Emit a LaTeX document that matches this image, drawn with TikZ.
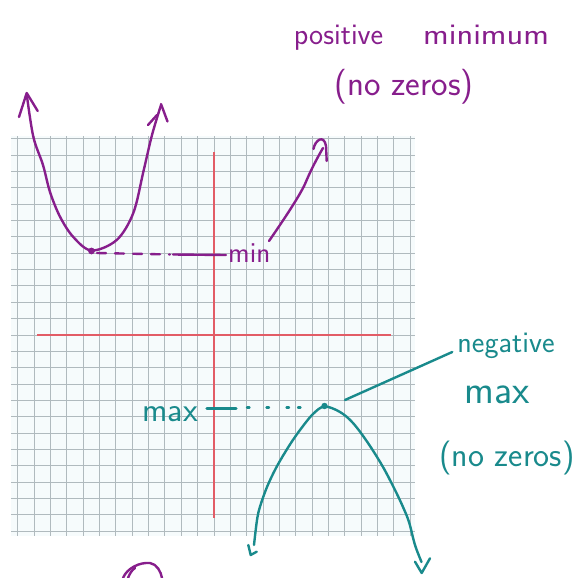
\documentclass[tikz,border=0pt]{standalone}
\definecolor{pur}{RGB}{135,30,140}
\definecolor{tea}{RGB}{25,138,140}
\definecolor{axr}{RGB}{226,92,102}
\definecolor{gridc}{RGB}{176,186,190}
\definecolor{gridbg}{RGB}{246,251,252}
\begin{document}
\begin{tikzpicture}[x=1pt,y=-1pt,
  pen/.style={line width=2.4pt,line cap=round,line join=round},
  hw/.style={inner sep=0pt},
  gridline/.style={gridc,line width=1pt},
  axis/.style={axr,line width=2.2pt}]
\useasboundingbox (0,0) rectangle (581,578);
% graph paper
\fill[gridbg] (11,136) rectangle (415,536);
\foreach \gi in {0,...,24} {
  \pgfmathsetmacro{\gx}{17.8+16.35*\gi}
  \pgfmathsetmacro{\gy}{138.8+16.35*\gi}
  \draw[gridline] (\gx,136) -- (\gx,536);
  \draw[gridline] (11,\gy) -- (415,\gy);
}
% axes
\coordinate (xl) at (37,335); \coordinate (xr) at (391,335);
\coordinate (yt) at (214,152); \coordinate (yb) at (214,518);
\draw[axis] (xl) -- (xr);
\draw[axis] (yt) -- (yb);

% ---------- purple: positive minimum ----------
\coordinate (minpt) at (91.5,251);
\draw[pur,pen] plot[smooth,tension=0.55] coordinates {(26.7,94) (33.3,136.7) (43,165) (50,192) (60,216.7) (73.3,237) (91.5,250.5) (116.7,240) (133.3,213) (143.3,172) (152,135) (161,105)};
\draw[pur,pen] (19,117) -- (26.7,93) -- (37.7,111);
\draw[pur,pen] (148,125) -- (157,115);
\draw[pur,pen] (161,104) -- (167.5,121.5);
\fill[pur] (minpt) circle (3.4pt);
\draw[pur,pen,dash pattern=on 9pt off 9pt] (97,253) -- (170,254.5);
\draw[pur,pen] (173,254.5) -- (226,255);
\node[hw,pur,anchor=base west,font=\sffamily\fontsize{29}{29}\selectfont] (minlbl) at (228,262) {min};
\node[hw,pur,anchor=base,font=\sffamily\fontsize{30}{30}\selectfont] (posmin) at (421.5,45) {positive\hspace{40pt}\scalebox{1.15}[1]{minimum}};
\node[hw,pur,font=\sffamily\fontsize{35}{35}\selectfont] (nz1) at (404,87) {(no zeros)};
\coordinate (ptrtip) at (323,148);
\draw[pur,pen] (269,241) .. controls (285,218) and (300,195) .. (305,184) .. controls (310,172) and (316,160) .. (ptrtip);
\draw[pur,pen] (313.5,149) .. controls (315,140) and (324,134) .. (326,146) -- (326.7,161);
% partial stroke at bottom edge
\draw[pur,pen] (123,578) .. controls (127,568) and (140,562) .. (150,563) .. controls (157,564) and (161,572) .. (162,578);
\draw[pur,pen] (128,578) .. controls (130,573) and (132,570) .. (135,568);

% ---------- teal: negative maximum ----------
\coordinate (maxpt) at (324.5,406);
\draw[tea,pen] plot[smooth,tension=0.55] coordinates {(254,545) (257,520) (260,506.7) (267,487) (276.7,466.7) (289,446) (300,430) (313,414) (324.5,406.5) (340,412) (353,423) (368,443) (383,467) (395,490) (403,507) (409,522) (415,545) (421.5,562)};
\draw[tea,pen] (248.3,545) -- (250.7,555) -- (256.7,551.7);
\draw[tea,pen] (415,561.7) -- (421.7,573) -- (430,558.3);
\fill[tea] (maxpt) circle (3.2pt);
\foreach \xx in {247,266.5,286.5,298} \draw[tea,pen] (\xx,407.5) -- ++(2.5,0);
\draw[tea,line width=3.2pt,line cap=round] (207,408.5) -- (236,408.5);
\node[hw,tea,anchor=base east,font=\sffamily\fontsize{34}{34}\selectfont] (maxlbl) at (198,421) {max};
\node[hw,tea,anchor=base,font=\sffamily\fontsize{30}{30}\selectfont] (neg) at (506,352) {negative};
\node[hw,tea,anchor=base,font=\sffamily\fontsize{40}{40}\selectfont] (negmax) at (497,403) {max};
\node[hw,tea,font=\sffamily\fontsize{34}{34}\selectfont] (nz2) at (507,458) {(no zeros)};
\coordinate (ptrstart) at (345,400);
\coordinate (negptr) at ([xshift=-5pt]neg.base west);
\draw[tea,pen] (ptrstart) -- (negptr);
\end{tikzpicture}
\end{document}
